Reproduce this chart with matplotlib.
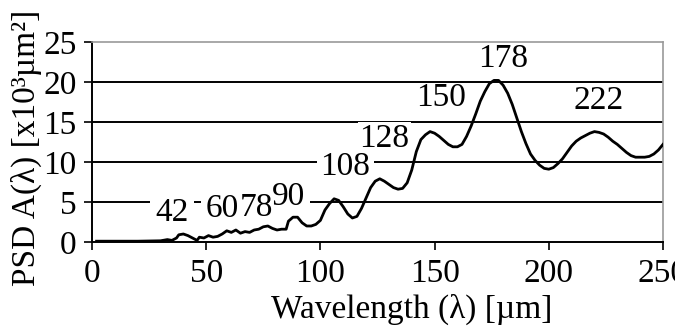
import numpy as np
import matplotlib
matplotlib.use("Agg")
import matplotlib.pyplot as plt

# ------------------- data --------------------------------------------- #
wavelength = [2, 10, 20, 30, 33, 35, 37, 38, 40, 42, 44, 46, 47, 49, 51, 53, 55,
              57, 59, 61, 63, 65, 67, 69, 71, 73, 75, 77, 79, 81, 83, 85, 86,
              88, 90, 92, 94, 96, 98, 100, 102, 104, 106, 108, 110, 112, 114,
              116, 118, 120, 122, 124, 126, 128, 130, 132, 134, 136, 138, 140,
              142, 144, 146, 148, 150, 152, 154, 156, 158, 160, 162, 164, 166,
              168, 170, 172, 174, 176, 178, 180, 182, 184, 186, 188, 190, 192,
              194, 196, 198, 200, 202, 204, 206, 208, 210, 212, 214, 216, 218,
              220, 222, 224, 226, 228, 230, 232, 234, 236, 238, 240, 242, 244,
              246, 248, 250]
psd = [0.1, 0.1, 0.1, 0.15, 0.3, 0.2, 0.5, 0.9, 1.0, 0.8, 0.5, 0.2, 0.6, 0.5,
       0.8, 0.6, 0.7, 1.0, 1.4, 1.2, 1.5, 1.1, 1.3, 1.2, 1.5, 1.6, 1.9, 2.0,
       1.7, 1.5, 1.6, 1.6, 2.6, 3.1, 3.1, 2.4, 2.0, 2.0, 2.2, 2.7, 4.0, 4.8,
       5.4, 5.2, 4.4, 3.5, 3.0, 3.2, 4.2, 5.5, 6.8, 7.6, 7.9, 7.6, 7.2, 6.8,
       6.6, 6.7, 7.4, 9.0, 11.3, 12.8, 13.4, 13.8, 13.6, 13.2, 12.7, 12.2,
       11.9, 11.9, 12.2, 13.2, 14.5, 16.0, 17.6, 18.8, 19.8, 20.2, 20.2, 19.6,
       18.6, 17.2, 15.5, 13.8, 12.3, 11.0, 10.2, 9.6, 9.2, 9.1, 9.3, 9.8,
       10.4, 11.2, 12.0, 12.6, 13.0, 13.3, 13.6, 13.8, 13.7, 13.5, 13.1, 12.6,
       12.2, 11.7, 11.2, 10.8, 10.6, 10.6, 10.6, 10.7, 11.0, 11.5, 12.2]

peak_labels = ["42", "60", "78", "90", "108", "128", "150", "178", "222"]
label_x = [35, 57, 72, 86, 111, 128, 153, 180, 222]
label_y = [3.7, 4.1, 4.3, 5.6, 9.4, 12.9, 18.0, 22.9, 17.7]

xticks = [0, 50, 100, 150, 200, 250]
yticks = [0, 5, 10, 15, 20, 25]

# ------------------- style ---------------------- #
FONT = ["Liberation Serif", "DejaVu Serif"]
FS = 24
# white box padding (fraction of font size) behind each label
BOX_PAD = [0.15, 0.15, 0.15, 0.15, 0.12, 0.04, -0.12, -0.12, -0.12]
plt.rcParams["font.family"] = FONT

fig = plt.figure(figsize=(6.75, 3.32), dpi=100)
ax = fig.add_axes([0.1363, 0.2711, 0.8459, 0.6024])

# horizontal grid, black like the original
for yv in yticks[1:-1]:
    ax.axhline(yv, color="black", lw=1.4, zorder=1)

ax.plot(wavelength, psd, color="black", lw=2.0, zorder=3)

# peak labels: white boxes first (hide the grid), then the text on top,
# so neighbouring boxes never cut into another label
for lab, lx, ly, bp in zip(peak_labels, label_x, label_y, BOX_PAD):
    ax.text(lx, ly, lab, fontsize=FS, ha="center", va="center", zorder=2,
            color="none",
            bbox=dict(boxstyle=f"square,pad={bp}", facecolor="white",
                      edgecolor="none"))
for lab, lx, ly in zip(peak_labels, label_x, label_y):
    ax.text(lx, ly, lab, fontsize=FS, ha="center", va="center", zorder=2.5,
            color="black")

ax.set_xlim(0, 250)
ax.set_ylim(0, 25)
ax.set_xticks(xticks)
ax.set_yticks(yticks)
ax.tick_params(axis="both", labelsize=FS, direction="out", length=6,
               width=1.2, color="black")
ax.tick_params(axis="x", pad=6)
ax.tick_params(axis="y", pad=5)

for s in ["left", "bottom"]:
    ax.spines[s].set_color("black")
    ax.spines[s].set_linewidth(1.4)
for s in ["top", "right"]:
    ax.spines[s].set_color("#999999")
    ax.spines[s].set_linewidth(1.2)

ax.set_xlabel("Wavelength (λ) [µm]", fontsize=FS)
ax.xaxis.set_label_coords(0.56, -0.26)
ax.set_ylabel("PSD A(λ) [x10³µm²]", fontsize=FS)
ax.yaxis.set_label_coords(-0.088, 0.47)

fig.savefig("out.png", dpi=100)
